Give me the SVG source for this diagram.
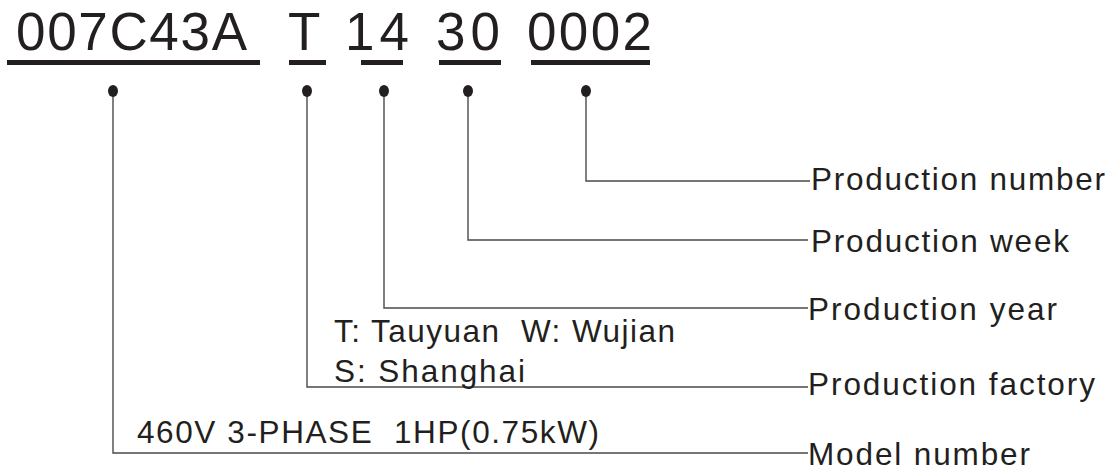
<svg xmlns="http://www.w3.org/2000/svg" width="1114" height="468" viewBox="0 0 1114 468">
<style>
  .code { font-family: "Liberation Sans", Arial, sans-serif; font-size: 53px; fill: #231f20; }
  .lbl { font-family: "Liberation Sans", Arial, sans-serif; font-size: 31.5px; fill: #231f20; white-space: pre; }
  .bar { fill: #231f20; }
  .dot { fill: #231f20; }
  .conn { fill: none; stroke: #4a4a4a; stroke-width: 1.4; }
</style>
<rect width="1114" height="468" fill="#ffffff"/>
<g id="code">
  <text class="code" x="16" y="50" textLength="231" lengthAdjust="spacing">007C43A</text>
  <text class="code" x="288" y="50">T</text>
  <text class="code" x="345" y="50" textLength="64" lengthAdjust="spacing">14</text>
  <text class="code" x="436" y="50" textLength="64" lengthAdjust="spacing">30</text>
  <text class="code" x="527" y="50" textLength="125" lengthAdjust="spacing">0002</text>
  <rect class="bar" x="7" y="60" width="253" height="5"/>
  <rect class="bar" x="289" y="60" width="37" height="5"/>
  <rect class="bar" x="361" y="60" width="42" height="5"/>
  <rect class="bar" x="439" y="60" width="62" height="5"/>
  <rect class="bar" x="531" y="60" width="119" height="5"/>
</g>
<g id="connectors">
  <polyline class="conn" points="113,91 113,453 808,453"/>
  <polyline class="conn" points="307,91 307,387 808,387"/>
  <polyline class="conn" points="384,91 384,308 808,308"/>
  <polyline class="conn" points="468,91 468,240 808,240"/>
  <polyline class="conn" points="586,91 586,181 810,181"/>
  <ellipse class="dot" cx="113" cy="91" rx="5" ry="6"/>
  <ellipse class="dot" cx="307" cy="91" rx="5" ry="6"/>
  <ellipse class="dot" cx="384" cy="91" rx="5" ry="6"/>
  <ellipse class="dot" cx="468" cy="91" rx="5" ry="6"/>
  <ellipse class="dot" cx="586" cy="91" rx="5" ry="6"/>
</g>
<g id="production-number">
  <text class="lbl" x="811" y="190" textLength="294" lengthAdjust="spacing">Production number</text>
</g>
<g id="production-week">
  <text class="lbl" x="811" y="252" textLength="258" lengthAdjust="spacing">Production week</text>
</g>
<g id="production-year">
  <text class="lbl" x="808" y="320" textLength="249" lengthAdjust="spacing">Production year</text>
</g>
<g id="factory-codes">
  <text class="lbl" x="334" y="342" textLength="341" lengthAdjust="spacing">T: Tauyuan  W: Wujian</text>
  <text class="lbl" x="334" y="382" textLength="191" lengthAdjust="spacing">S: Shanghai</text>
</g>
<g id="production-factory">
  <text class="lbl" x="808" y="395" textLength="287" lengthAdjust="spacing">Production factory</text>
</g>
<g id="model-desc">
  <text class="lbl" x="137" y="443" textLength="462" lengthAdjust="spacing">460V 3-PHASE  1HP(0.75kW)</text>
</g>
<g id="model-number">
  <text class="lbl" x="808" y="465" textLength="222" lengthAdjust="spacing">Model number</text>
</g>
</svg>
